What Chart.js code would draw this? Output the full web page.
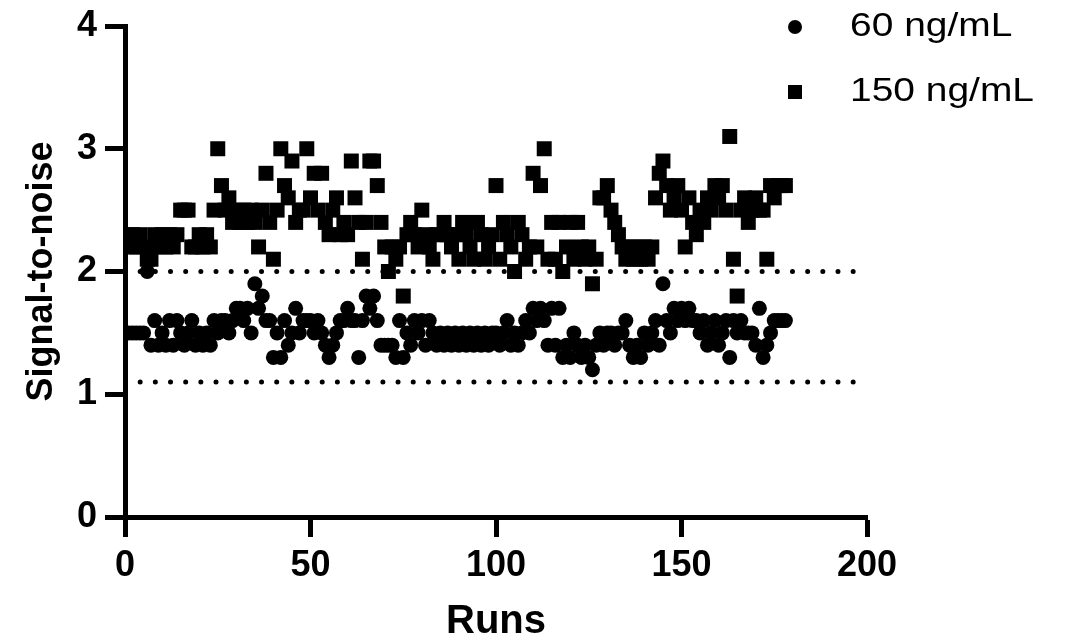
<!DOCTYPE html>
<html>
<head>
<meta charset="utf-8">
<script src="https://cdn.jsdelivr.net/npm/chart.js@4.4.0/dist/chart.umd.min.js"></script>
<style>
    body { margin: 0; background: #fff; }
    #wrap { width: 1066px; height: 639px; }
</style>
</head>
<body>
<div id="wrap"><canvas id="snChart" width="1066" height="639"></canvas></div>
<script>
// signal-to-noise per run
const low60 = [
    1.5, 1.5, 1.5, 1.5, 1.5, 1.5, 2.0, 1.4, 1.6, 1.4,
    1.5, 1.4, 1.6, 1.4, 1.6, 1.5, 1.4, 1.5, 1.6, 1.4,
    1.5, 1.4, 1.5, 1.4, 1.6, 1.5, 1.6, 1.6, 1.5, 1.6,
    1.7, 1.7, 1.6, 1.7, 1.5, 1.9, 1.7, 1.8, 1.6, 1.6,
    1.3, 1.5, 1.3, 1.6, 1.4, 1.5, 1.7, 1.5, 1.6, 1.6,
    1.6, 1.5, 1.6, 1.5, 1.4, 1.3, 1.4, 1.5, 1.6, 1.6,
    1.7, 1.6, 1.6, 1.3, 1.6, 1.8, 1.7, 1.8, 1.6, 1.4,
    1.4, 1.4, 1.4, 1.3, 1.6, 1.3, 1.5, 1.4, 1.6, 1.5,
    1.6, 1.4, 1.6, 1.5, 1.4, 1.5, 1.4, 1.5, 1.4, 1.5,
    1.4, 1.5, 1.4, 1.5, 1.4, 1.5, 1.4, 1.5, 1.4, 1.5,
    1.5, 1.4, 1.5, 1.6, 1.4, 1.5, 1.4, 1.5, 1.6, 1.5,
    1.7, 1.6, 1.7, 1.6, 1.4, 1.7, 1.4, 1.7, 1.3, 1.4,
    1.3, 1.5, 1.4, 1.3, 1.4, 1.3, 1.2, 1.4, 1.5, 1.4,
    1.5, 1.5, 1.4, 1.5, 1.5, 1.6, 1.4, 1.3, 1.4, 1.3,
    1.5, 1.4, 1.5, 1.6, 1.4, 1.9, 1.6, 1.5, 1.7, 1.6,
    1.7, 1.6, 1.7, 1.6, 1.6, 1.5, 1.6, 1.4, 1.5, 1.6,
    1.4, 1.5, 1.6, 1.3, 1.6, 1.5, 1.6, 1.5, 1.5, 1.5,
    1.4, 1.7, 1.3, 1.4, 1.5, 1.6, 1.6, 1.6, 1.6
];
const high150 = [
    2.3, 2.2, 2.3, 2.2, 2.3, 2.2, 2.1, 2.1, 2.3, 2.2,
    2.3, 2.2, 2.3, 2.2, 2.3, 2.5, 2.5, 2.5, 2.2, 2.2,
    2.3, 2.2, 2.3, 2.2, 2.5, 3.0, 2.7, 2.5, 2.6, 2.4,
    2.5, 2.4, 2.5, 2.4, 2.5, 2.4, 2.2, 2.5, 2.8, 2.4,
    2.1, 2.5, 3.0, 2.7, 2.6, 2.9, 2.4, 2.5, 2.5, 3.0,
    2.6, 2.8, 2.5, 2.8, 2.4, 2.3, 2.5, 2.6, 2.3, 2.4,
    2.3, 2.9, 2.6, 2.4, 2.1, 2.4, 2.9, 2.9, 2.7, 2.4,
    2.2, 2.0, 2.2, 2.1, 2.2, 1.8, 2.3, 2.4, 2.3, 2.2,
    2.5, 2.3, 2.2, 2.1, 2.3, 2.3, 2.4, 2.3, 2.2, 2.3,
    2.1, 2.4, 2.3, 2.2, 2.1, 2.4, 2.3, 2.1, 2.2, 2.3,
    2.7, 2.1, 2.4, 2.3, 2.2, 2.0, 2.4, 2.3, 2.1, 2.2,
    2.8, 2.2, 2.7, 3.0, 2.1, 2.4, 2.1, 2.4, 2.0, 2.2,
    2.4, 2.1, 2.4, 2.2, 2.1, 2.2, 1.9, 2.1, 2.6, 2.6,
    2.7, 2.5, 2.4, 2.3, 2.2, 2.1, 2.2, 2.1, 2.2, 2.1,
    2.2, 2.1, 2.2, 2.6, 2.8, 2.9, 2.7, 2.5, 2.6, 2.7,
    2.5, 2.2, 2.6, 2.4, 2.3, 2.5, 2.4, 2.6, 2.5, 2.7,
    2.6, 2.7, 2.5, 3.1, 2.1, 1.8, 2.5, 2.6, 2.4, 2.5,
    2.6, 2.5, 2.5, 2.1, 2.7, 2.6, 2.7, 2.7, 2.7
];
const seriesNames = ['60 ng/mL', '150 ng/mL'];
const yTicks = [0, 1, 2, 3, 4];
const xTicks = [0, 50, 100, 150, 200];
// dotted reference levels and the run range they cover
const limitLevels = [2.0, 1.1];
const limitRuns = [0, 196.3];

const runs = low60.map(function (v, i) { return i; });

function toPoints(values) {
    return values.map(function (v, i) {
        return {x: runs[i], y: v};
    });
}

function limitLine(level) {
    return {
        type: 'line',
        data: limitRuns.map(function (r) { return {x: r, y: level}; }),
        borderColor: '#000',
        borderWidth: 5,
        borderDash: [0, 15.17],
        borderCapStyle: 'round',
        pointRadius: 0,
        fill: false,
        tension: 0
    };
}

// legend drawn by hand so it sits where the original puts it
const cornerLegend = {
    id: 'cornerLegend',
    afterDraw: function (chart) {
        const ctx = chart.ctx;
        const rows = [
            {style: 'circle', y: 27, text: seriesNames[0]},
            {style: 'rect', y: 92, text: seriesNames[1]}
        ];
        ctx.save();
        ctx.fillStyle = '#000';
        rows.forEach(function (row) {
            if (row.style === 'circle') {
                ctx.beginPath();
                ctx.arc(795, row.y, 7, 0, Math.PI * 2);
                ctx.fill();
            } else {
                ctx.fillRect(788, row.y - 7, 14, 14);
            }
            ctx.save();
            ctx.translate(850, row.y);
            ctx.scale(1.18, 1);
            ctx.font = '33px "Liberation Sans", Arial, sans-serif';
            ctx.textBaseline = 'middle';
            ctx.textAlign = 'left';
            ctx.fillText(row.text, 0, 0);
            ctx.restore();
        });
        ctx.restore();
    }
};

const tickFont = {family: '"Liberation Sans", Arial, sans-serif', size: 36, weight: 'bold', lineHeight: 1};

let snChart = new Chart(document.getElementById('snChart'), {
    type: 'scatter',
    data: {
        datasets: [{
            label: seriesNames[0],
            data: toPoints(low60),
            pointStyle: 'circle',
            pointRadius: 7.5,
            backgroundColor: '#000',
            borderWidth: 0
        }, {
            label: seriesNames[1],
            data: toPoints(high150),
            pointStyle: 'rect',
            pointRadius: 10.6,
            backgroundColor: '#000',
            borderWidth: 0
        },
        limitLine(limitLevels[0]),
        limitLine(limitLevels[1])]
    },
    options: {
        responsive: false,
        animation: false,
        events: [],
        devicePixelRatio: 1,
        layout: {padding: {top: 20, right: 199, left: 0, bottom: 0}},
        plugins: {
            legend: {display: false},
            tooltip: {enabled: false}
        },
        scales: {
            x: {
                type: 'linear',
                min: 0,
                max: 200,
                afterFit: function (scale) { scale.height = 122; },
                afterBuildTicks: function (scale) {
                    scale.ticks = xTicks.map(function (v) { return {value: v}; });
                },
                border: {color: '#000', width: 5},
                grid: {drawOnChartArea: false, drawTicks: true, tickLength: 20, tickWidth: 5, tickColor: '#000'},
                ticks: {color: '#000', font: tickFont, padding: 11, maxRotation: 0},
                title: {
                    display: true,
                    text: 'Runs',
                    color: '#000',
                    font: {family: '"Liberation Sans", Arial, sans-serif', size: 40, weight: 'bold', lineHeight: 0.85},
                    padding: 0
                }
            },
            y: {
                min: 0,
                max: 4,
                afterFit: function (scale) { scale.width = 125; },
                afterBuildTicks: function (scale) {
                    scale.ticks = yTicks.map(function (v) { return {value: v}; });
                },
                border: {color: '#000', width: 5},
                grid: {drawOnChartArea: false, drawTicks: true, tickLength: 20, tickWidth: 5, tickColor: '#000'},
                ticks: {color: '#000', font: tickFont, padding: 8},
                title: {
                    display: true,
                    text: 'Signal-to-noise',
                    color: '#000',
                    font: {family: '"Liberation Sans", Arial, sans-serif', size: 36, weight: 'bold'},
                    padding: {top: 20, bottom: 0}
                }
            }
        }
    },
    plugins: [cornerLegend]
});
</script>
</body>
</html>
